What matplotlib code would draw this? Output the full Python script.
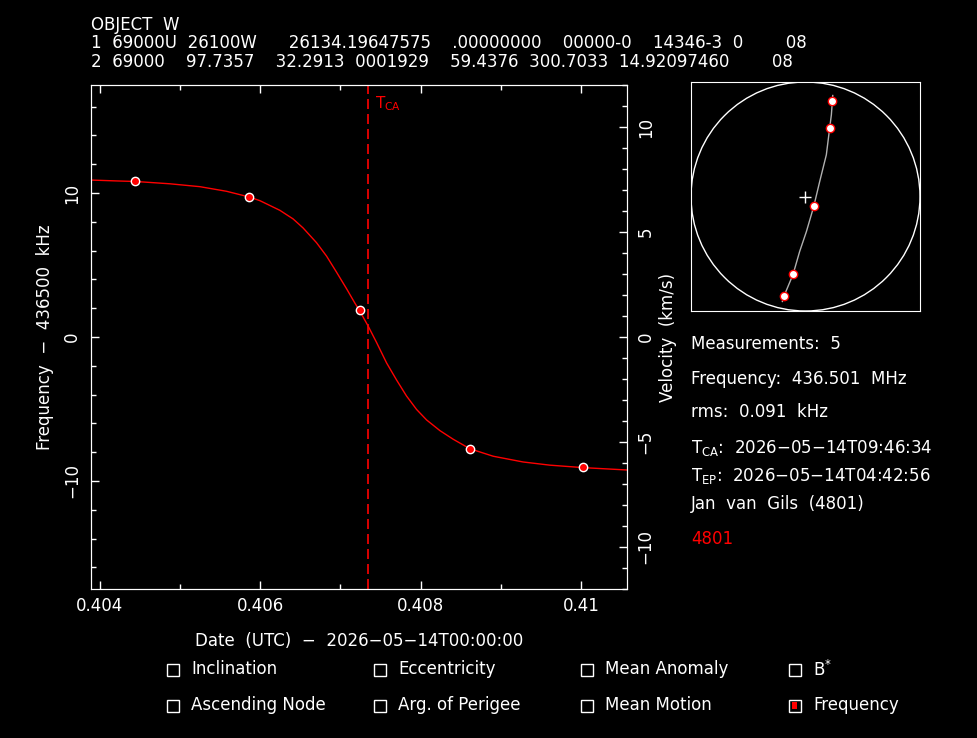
import numpy as np
import matplotlib
matplotlib.use('Agg')
import matplotlib.pyplot as plt
from matplotlib.patches import Rectangle, Circle
from matplotlib.ticker import FixedLocator, MultipleLocator

plt.rcParams.update({'font.size': 12, 'font.family': 'DejaVu Sans',
                     'text.color': 'white', 'axes.labelcolor': 'white',
                     'mathtext.default': 'regular'})

SP = '\u2007'  # wide space, the original font has broad blanks

# header (TLE of the object)
header_lines = ['OBJECT W',
                '1 69000U 26100W   26134.19647575  .00000000  00000-0  14346-3 0    08',
                '2 69000  97.7357  32.2913 0001929  59.4376 300.7033 14.92097460    08']

# measurements: fraction of day, frequency offset (kHz)
meas_t = [0.404443, 0.405857, 0.407241, 0.408614, 0.410024]
meas_f = [10.81, 9.72, 1.86, -7.80, -9.06]

# fitted doppler curve
curve_t = [0.403885, 0.404197, 0.404443, 0.404871, 0.405245, 0.405578, 0.405857,
           0.405994, 0.406243, 0.406409, 0.406534, 0.406701, 0.406826, 0.406951,
           0.407075, 0.407179, 0.407241, 0.407345, 0.407450, 0.407575, 0.407699,
           0.407824, 0.407949, 0.408074, 0.408240, 0.408406, 0.408614, 0.408905,
           0.409279, 0.409612, 0.410024, 0.410589]
curve_f = [10.90, 10.84, 10.80, 10.64, 10.44, 10.12, 9.73,
           9.47, 8.80, 8.20, 7.57, 6.55, 5.62, 4.50,
           3.36, 2.36, 1.80, 0.76, -0.38, -1.80, -2.98,
           -4.10, -5.03, -5.76, -6.50, -7.10, -7.76, -8.28,
           -8.68, -8.90, -9.07, -9.24]

t_ca = 0.407338
xticks = [0.404, 0.406, 0.408, 0.410]
xtick_labels = ['0.404', '0.406', '0.408', '0.41']
yticks = [-10, 0, 10]
ytick_labels = ['\u221210', '0', '10']
vticks = [-10, -5, 0, 5, 10]
vtick_labels = ['\u221210', '\u22125', '0', '5', '10']

# sky track (unit circle = horizon)
track_x = [0.238, 0.226, 0.211, 0.182, 0.124, 0.072, 0.008, -0.051, -0.109, -0.188, -0.202]
track_y = [0.882, 0.714, 0.597, 0.364, 0.131, -0.087, -0.306, -0.480, -0.681, -0.870, -0.917]
sky_x = [0.235, 0.211, 0.072, -0.109, -0.188]
sky_y = [0.833, 0.597, -0.087, -0.681, -0.870]

info_lines = ['Measurements: 5', 'Frequency: 436.501 MHz', 'rms: 0.091 kHz',
              'T$_{CA}$: 2026\u221205\u221214T09:46:34',
              'T$_{EP}$: 2026\u221205\u221214T04:42:56',
              'Jan van Gils (4801)']
observer = '4801'

check_labels = [['Inclination', 'Eccentricity', 'Mean Anomaly', 'B$^{*}$'],
                ['Ascending Node', 'Arg. of Perigee', 'Mean Motion', 'Frequency']]
checked = 'Frequency'

C_KMS = 299792.458
F0_KHZ = 436501.0
YLIM = 17.5

W, H = 978, 738
def fx(px):
    return px / W
def fy(py):
    return 1 - py / H
def wide(s):
    return s.replace(' ', SP)


fig = plt.figure(figsize=(W / 100, H / 100), dpi=100, facecolor='black')

# --- main doppler plot ---
ax = fig.add_axes([fx(91), fy(589), 536 / W, 504 / H])
ax.set_facecolor('black')
ax.plot(curve_t, curve_f, color='red', lw=1)
ax.plot(meas_t, meas_f, 'o', ms=6, mfc='red', mec='white', mew=1)
ax.axvline(t_ca, color='red', lw=1.2, dashes=(6, 3))
ax.annotate('T$_{CA}$', xy=(t_ca, 1), xycoords=('data', 'axes fraction'),
            xytext=(5, -17), textcoords='offset points', color='red',
            va='baseline', ha='left', fontsize=11)
ax.set_xlim(0.403888, 0.410574)
ax.set_ylim(-YLIM, YLIM)
ax.xaxis.set_major_locator(FixedLocator(xticks))
ax.set_xticklabels(xtick_labels)
ax.xaxis.set_minor_locator(MultipleLocator(0.001))
ax.set_yticks(yticks)
ax.set_yticklabels(ytick_labels, rotation=90, va='center')
ax.yaxis.set_minor_locator(MultipleLocator(2))
ax.tick_params(which='both', direction='in', colors='white', top=True, right=False,
               labelsize=12)
ax.tick_params(which='major', length=6, width=1)
ax.tick_params(which='minor', length=3.5, width=1)
ax.tick_params(axis='x', pad=6)
ax.tick_params(axis='y', pad=7)
for s in ax.spines.values():
    s.set_color('white')
ax.set_xlabel(wide('Date (UTC) \u2212 2026\u221205\u221214T00:00:00'), fontsize=12)
ax.xaxis.set_label_coords(0.5, -0.103)
ax.xaxis.label.set_va('center')
ax.set_ylabel(wide('Frequency \u2212 436500 kHz'), fontsize=12)
ax.yaxis.set_label_coords(-0.086, 0.5)
ax.yaxis.label.set_va('center')

ax2 = ax.twinx()
ax2.set_ylim(-YLIM * C_KMS / F0_KHZ, YLIM * C_KMS / F0_KHZ)
ax2.set_yticks(vticks)
ax2.set_yticklabels(vtick_labels, rotation=90, va='center')
ax2.yaxis.set_minor_locator(MultipleLocator(1))
ax2.tick_params(which='both', direction='in', colors='white', labelsize=12, pad=7)
ax2.tick_params(which='major', length=6, width=1)
ax2.tick_params(which='minor', length=3.5, width=1)
for s in ax2.spines.values():
    s.set_color('white')
ax2.set_ylabel(wide('Velocity (km/s)'), fontsize=12)
ax2.yaxis.set_label_coords(1.077, 0.5)
ax2.yaxis.label.set_va('center')

# --- sky plot ---
sky = fig.add_axes([fx(691), fy(311), 229 / W, 229 / H])
sky.set_facecolor('black')
sky.set_xlim(-1, 1)
sky.set_ylim(-1, 1)
sky.set_xticks([])
sky.set_yticks([])
for s in sky.spines.values():
    s.set_color('white')
sky.add_patch(Circle((0, 0), 1, fill=False, ec='white', lw=1))
sky.plot(track_x, track_y, color='#b0b0b0', lw=1)
sky.plot(sky_x, sky_y, 'o', ms=6, mfc='white', mec='red', mew=1)
sky.plot([0], [0], '+', color='white', ms=8, mew=1)

# --- header ---
for i, line in enumerate(header_lines):
    fig.text(fx(91), fy(30 + 18.5 * i), wide(line), fontsize=12, va='baseline', ha='left')

# --- info ---
info_base = [349, 384, 417, 453, 481, 509]
for line, yb in zip(info_lines, info_base):
    fig.text(fx(691), fy(yb), wide(line), fontsize=12, va='baseline', ha='left')
fig.text(fx(691), fy(544), observer, fontsize=12, va='baseline', ha='left', color='red')

# --- check boxes ---
col_x = [167, 374, 581, 789]
row_y = [669.5, 705.5]
for r, row in enumerate(check_labels):
    for c, lab in enumerate(row):
        bx, by = col_x[c], row_y[r]
        fig.add_artist(Rectangle((fx(bx), fy(by + 6)), 12 / W, 12 / H, fill=False,
                                 ec='white', lw=1, transform=fig.transFigure))
        if lab == checked:
            fig.add_artist(Rectangle((fx(bx + 3.5), fy(by + 3.5)), 5 / W, 7 / H,
                                     fc='red', ec='none', transform=fig.transFigure))
        fig.text(fx(bx + 24), fy(by), lab, fontsize=12, va='center', ha='left')

fig.savefig('out.png', dpi=100, facecolor='black')
